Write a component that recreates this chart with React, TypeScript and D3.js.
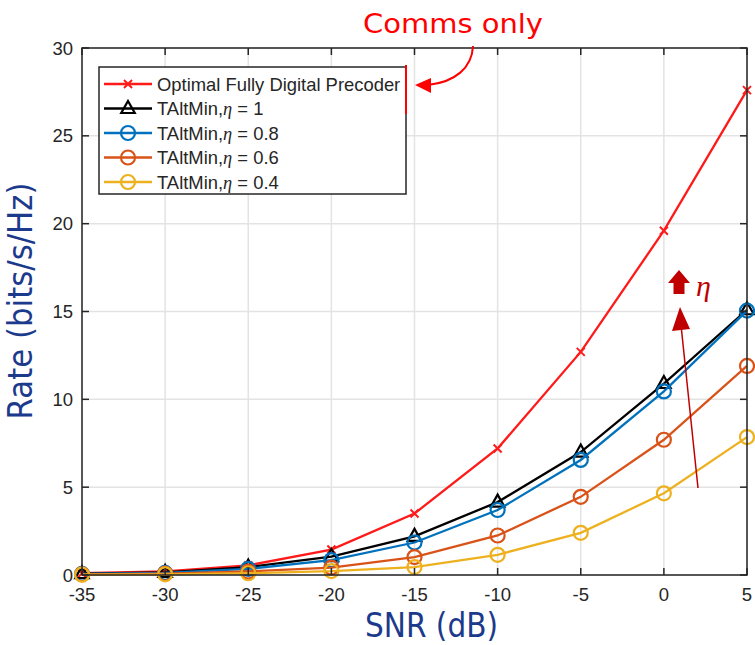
import React from "react";
import * as d3 from "d3";

// SNR sweep (dB)
const snr = [-35, -30, -25, -20, -15, -10, -5, 0, 5];

// Achievable rate (bits/s/Hz) per precoder
const optimalDigital = [0.1, 0.2, 0.55, 1.45, 3.5, 7.2, 12.7, 19.6, 27.6];
const taltminEta1 = [0.08, 0.15, 0.45, 1.05, 2.2, 4.15, 7.0, 10.9, 15.1];
const taltminEta08 = [0.06, 0.12, 0.35, 0.85, 1.85, 3.7, 6.55, 10.45, 15.05];
const taltminEta06 = [0.04, 0.08, 0.2, 0.42, 1.02, 2.25, 4.45, 7.7, 11.9];
const taltminEta04 = [0.02, 0.04, 0.1, 0.22, 0.45, 1.15, 2.4, 4.65, 7.85];

const xTicks = [-35, -30, -25, -20, -15, -10, -5, 0, 5];
const yTicks = [0, 5, 10, 15, 20, 25, 30];

type Marker = "x" | "triangle" | "circle";

const seriesNames = ["opt", "e1", "e08", "e06", "e04"];
const seriesValues = [optimalDigital, taltminEta1, taltminEta08, taltminEta06, taltminEta04];
const seriesColors = ["#ff1a1a", "#000000", "#0072BD", "#D95319", "#EDB120"];
const seriesMarkers: Marker[] = ["x", "triangle", "circle", "circle", "circle"];
const legendEta = ["", "1", "0.8", "0.6", "0.4"];

const W = 755;
const H = 645;
const plot = { left: 82, right: 747, top: 48, bottom: 575 };

const axisColor = "#262626";
const gridColor = "#e3e3e3";
const annotRed = "#c00000";
const titleBlue = "#1c3a8c";

function MarkerShape({ kind, x, y, color }: { kind: Marker; x: number; y: number; color: string }) {
  if (kind === "x") {
    const s = 4;
    return (
      <path
        d={`M${x - s},${y - s}L${x + s},${y + s}M${x - s},${y + s}L${x + s},${y - s}`}
        stroke={color}
        strokeWidth={2}
        fill="none"
      />
    );
  }
  if (kind === "triangle") {
    const s = 7.5;
    return (
      <path
        d={`M${x},${y - s}L${x + s * 0.9},${y + s * 0.6}L${x - s * 0.9},${y + s * 0.6}Z`}
        stroke={color}
        strokeWidth={2.2}
        fill="none"
      />
    );
  }
  return <circle cx={x} cy={y} r={7} stroke={color} strokeWidth={2.2} fill="none" />;
}

export default function App() {
  const x = d3.scaleLinear().domain([-35, 5]).range([plot.left, plot.right]);
  const y = d3.scaleLinear().domain([0, 30]).range([plot.bottom, plot.top]);

  const line = d3
    .line<[number, number]>()
    .x((d) => x(d[0]))
    .y((d) => y(d[1]));

  const legendRows = seriesNames.map((_, i) => 84 + i * 24.5);
  const tickLen = 7;

  // curved "Comms only" pointer
  const commsArrow = d3.path();
  commsArrow.moveTo(473, 46);
  commsArrow.bezierCurveTo(472, 68, 455, 82, 428, 85);

  return (
    <svg
      width={W}
      height={H}
      style={{ position: "absolute", left: 0, top: 0, background: "#fff" }}
      fontFamily="'Liberation Sans', Arial, sans-serif"
    >
      {/* grid */}
      {xTicks.map((t) => (
        <line key={`gx${t}`} x1={x(t)} x2={x(t)} y1={plot.top} y2={plot.bottom} stroke={gridColor} strokeWidth={1.5} />
      ))}
      {yTicks.map((t) => (
        <line key={`gy${t}`} x1={plot.left} x2={plot.right} y1={y(t)} y2={y(t)} stroke={gridColor} strokeWidth={1.5} />
      ))}

      {/* series */}
      {seriesValues.map((vals, i) => {
        const pts = snr.map((s, k) => [s, vals[k]] as [number, number]);
        return (
          <g key={seriesNames[i]}>
            <path d={line(pts) || ""} fill="none" stroke={seriesColors[i]} strokeWidth={2.3} />
            {pts.map((p, k) => (
              <MarkerShape key={k} kind={seriesMarkers[i]} x={x(p[0])} y={y(p[1])} color={seriesColors[i]} />
            ))}
          </g>
        );
      })}

      {/* axes box and ticks */}
      <rect
        x={plot.left}
        y={plot.top}
        width={plot.right - plot.left}
        height={plot.bottom - plot.top}
        fill="none"
        stroke={axisColor}
        strokeWidth={1.5}
      />
      {xTicks.map((t) => (
        <g key={`tx${t}`}>
          <line x1={x(t)} x2={x(t)} y1={plot.bottom} y2={plot.bottom - tickLen} stroke={axisColor} strokeWidth={1.5} />
          <line x1={x(t)} x2={x(t)} y1={plot.top} y2={plot.top + tickLen} stroke={axisColor} strokeWidth={1.5} />
          <text x={x(t)} y={601} textAnchor="middle" fontSize={18.5} fill={axisColor}>
            {t}
          </text>
        </g>
      ))}
      {yTicks.map((t) => (
        <g key={`ty${t}`}>
          <line x1={plot.left} x2={plot.left + tickLen} y1={y(t)} y2={y(t)} stroke={axisColor} strokeWidth={1.5} />
          <line x1={plot.right} x2={plot.right - tickLen} y1={y(t)} y2={y(t)} stroke={axisColor} strokeWidth={1.5} />
          <text x={73} y={y(t) + 6.5} textAnchor="end" fontSize={18.5} fill={axisColor}>
            {t}
          </text>
        </g>
      ))}

      {/* legend */}
      <rect x={99} y={67} width={307} height={127} fill="#fff" stroke={axisColor} strokeWidth={1.5} />
      {seriesNames.map((n, i) => (
        <g key={`lg${n}`}>
          <line x1={104} x2={152} y1={legendRows[i]} y2={legendRows[i]} stroke={seriesColors[i]} strokeWidth={2.3} />
          <MarkerShape kind={seriesMarkers[i]} x={128} y={legendRows[i]} color={seriesColors[i]} />
          <text x={157} y={legendRows[i] + 6.5} fontSize={18.4} fill={axisColor}>
            {i === 0 ? (
              "Optimal Fully Digital Precoder"
            ) : (
              <>
                TAltMin,
                <tspan fontFamily="'Liberation Serif', serif" fontStyle="italic">
                  η
                </tspan>
                {` = ${legendEta[i]}`}
              </>
            )}
          </text>
        </g>
      ))}
      <line x1={406} x2={406} y1={65} y2={114} stroke="#ff0000" strokeWidth={2} />

      {/* "Comms only" callout */}
      <text
        x={363}
        y={33}
        fontFamily="'DejaVu Sans', sans-serif"
        fontSize={27}
        fill="#ff0000"
        textLength={180}
        lengthAdjust="spacingAndGlyphs"
      >
        Comms only
      </text>
      <path d={commsArrow.toString()} fill="none" stroke="#ff0000" strokeWidth={2} />
      <path d="M415,85L431,78L431,93Z" fill="#ff0000" />

      {/* increasing eta annotation */}
      <line x1={698} x2={681} y1={488} y2={325} stroke={annotRed} strokeWidth={1.5} />
      <path d="M680,307L672,331L690,329Z" fill={annotRed} />
      <path d="M679,270L690,283L684.5,283L684.5,294L673.5,294L673.5,283L668,283Z" fill={annotRed} />
      <text x={696} y={296} fontFamily="'Liberation Serif', serif" fontStyle="italic" fontSize={30} fill={annotRed}>
        η
      </text>

      {/* axis titles */}
      <text
        x={431.5}
        y={637}
        textAnchor="middle"
        fontFamily="'DejaVu Sans', sans-serif"
        fontSize={33}
        fill={titleBlue}
        textLength={133}
        lengthAdjust="spacingAndGlyphs"
      >
        SNR (dB)
      </text>
      <text
        transform="translate(32,301) rotate(-90)"
        textAnchor="middle"
        fontFamily="'DejaVu Sans', sans-serif"
        fontSize={33}
        fill={titleBlue}
        textLength={237}
        lengthAdjust="spacingAndGlyphs"
      >
        Rate (bits/s/Hz)
      </text>
    </svg>
  );
}
